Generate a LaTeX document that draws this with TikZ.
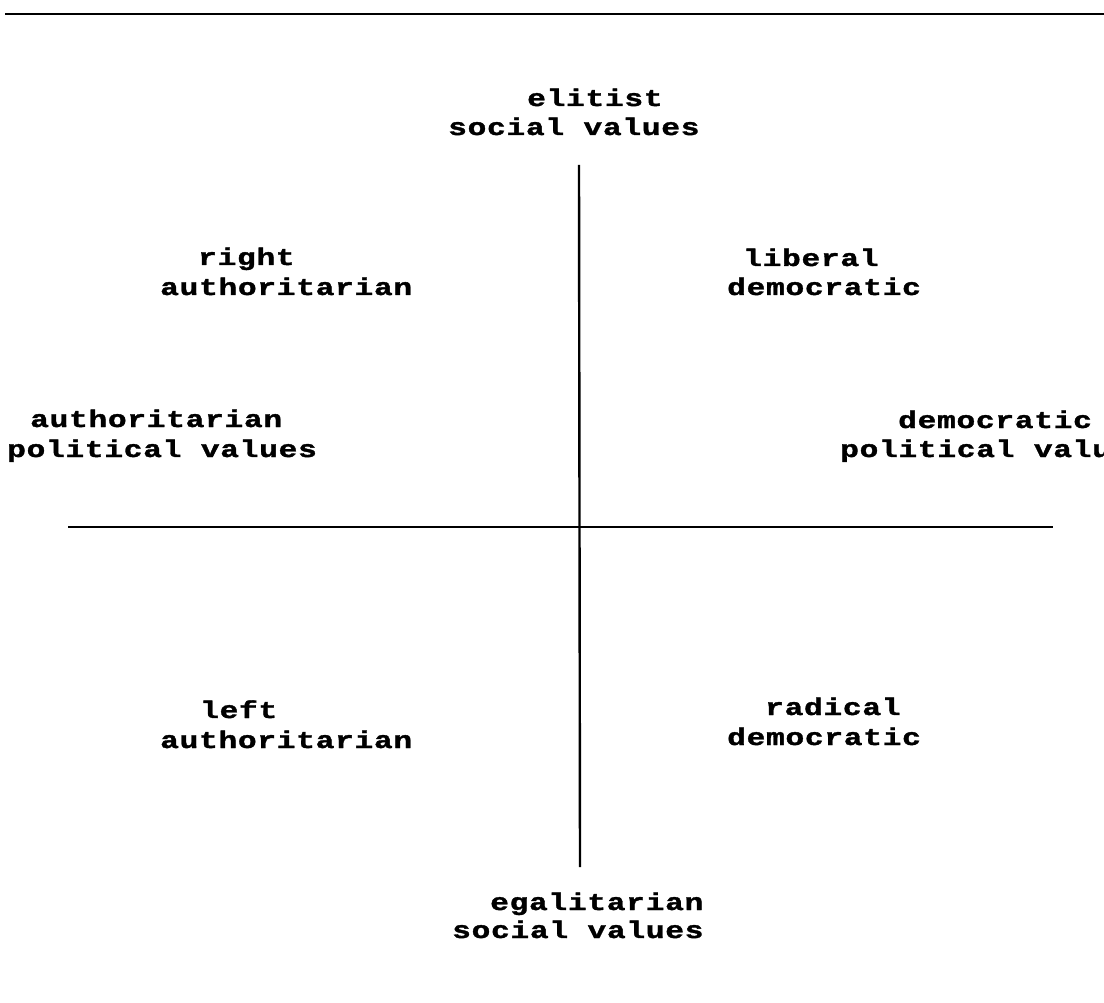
\documentclass[tikz,border=0pt]{standalone}
\usepackage{fontspec}
\newfontfamily\typefont[FakeStretch=1.3,LetterSpace=3,FakeBold=1.5]{Liberation Mono}[BoldFont={* Bold}]
\tikzset{
  lbl/.style={anchor=base west,inner sep=0pt,font=\typefont\bfseries\fontsize{24pt}{28pt}\selectfont,text=black},
  axis/.style={line width=2.4pt,black}
}
\begin{document}
\begin{tikzpicture}[x=1pt,y=-1pt]
\useasboundingbox[fill=white] (0,0) rectangle (1104,1003);
% top rule
\coordinate (tl) at (5,14);
\coordinate (tr) at (1104,14);
\draw[line width=2pt] (tl) -- (tr);
% axes
\coordinate (vt) at (579,165);
\coordinate (vb) at (580,867);
\coordinate (hl) at (68,527);
\coordinate (hr) at (1053,527);
\draw[axis] (vt) -- (vb);
\draw[axis] (hl) -- (hr);
% labels
\node[lbl] (el1) at (527,106) {elitist};
\node[lbl] (el2) at (448,135) {social values};
\node[lbl] (ra1) at (198,265) {right};
\node[lbl] (ra2) at (160,295) {authoritarian};
\node[lbl] (ld1) at (743,266) {liberal};
\node[lbl] (ld2) at (727,295) {democratic};
\node[lbl] (ap1) at (30,427) {authoritarian};
\node[lbl] (ap2) at (7,457) {political values};
\node[lbl] (dp1) at (898,428) {democratic};
\node[lbl] (dp2) at (840,457) {political values};
\node[lbl] (la1) at (200,718) {left};
\node[lbl] (la2) at (160,748) {authoritarian};
\node[lbl] (rd1) at (765,715) {radical};
\node[lbl] (rd2) at (727,745) {democratic};
\node[lbl] (eg1) at (490,910) {egalitarian};
\node[lbl] (eg2) at (452,938) {social values};
\end{tikzpicture}
\end{document}
